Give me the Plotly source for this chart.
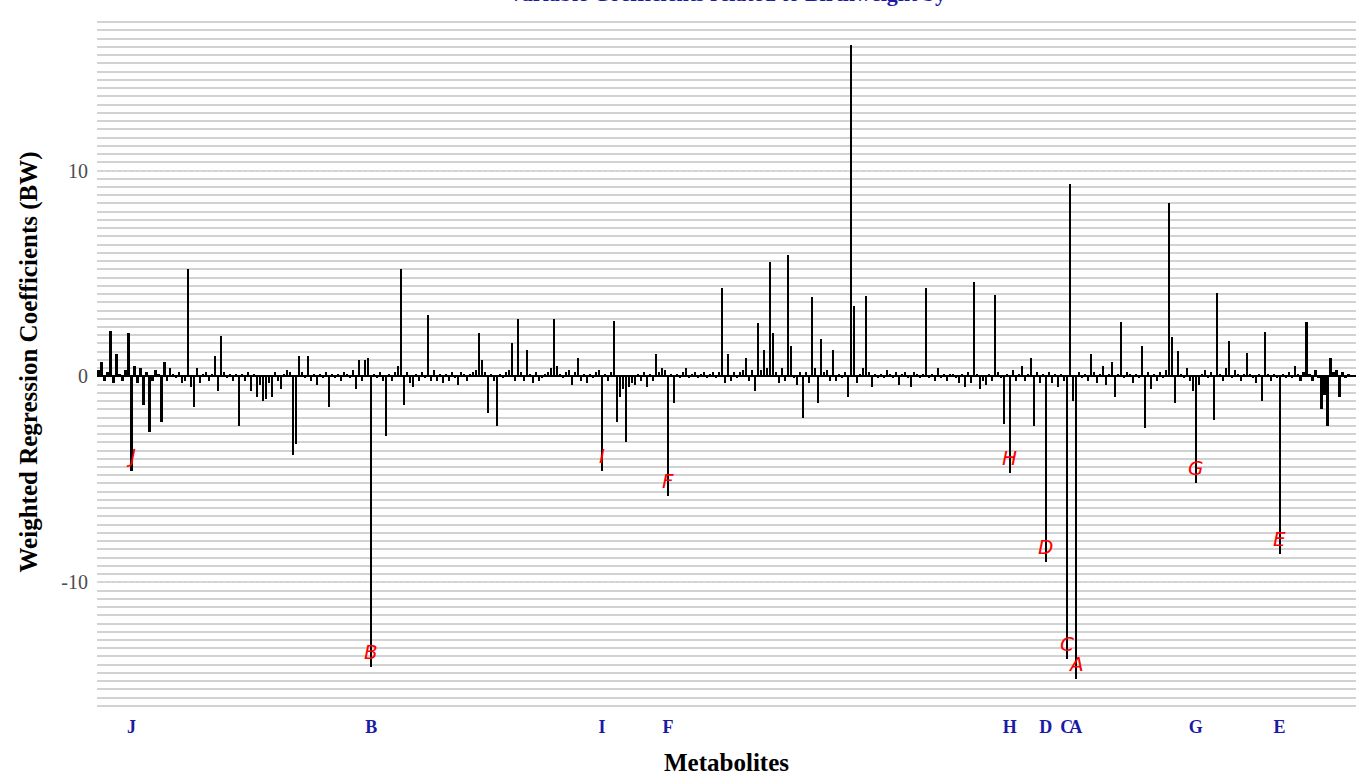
import plotly.graph_objects as go

# Weighted regression coefficients for each metabolite (index 0..419)
coefficients = [
    0.3, 0.7, -0.2, 0.2, 2.2, -0.3, 1.1, 0.1, -0.2, 0.3, 2.1, -4.6, 0.5, -0.3, 0.4, -1.4, 0.2, -2.7, -0.2, 0.3,
    0.1, -2.2, 0.7, -0.2, 0.4, 0.1, -0.1, 0.2, -0.3, -0.2, 5.2, -0.5, -1.5, 0.4, -0.3, 0.1, 0.2, -0.2, 0.1, 1.0,
    -0.7, 1.95, 0.2, -0.1, 0.1, -0.2, 0.1, -2.4, 0.1, -0.2, 0.2, -0.7, 0.1, -1.0, -0.4, -1.2, -1.1, -0.3, -1.0, 0.2,
    -0.2, -0.6, 0.1, 0.3, 0.2, -3.8, -3.3, 1.0, 0.2, -0.1, 1.0, -0.2, 0.1, -0.4, 0.1, -0.1, 0.2, -1.5, 0.1, -0.1,
    0.1, -0.2, 0.2, 0.1, -0.1, 0.3, -0.6, 0.8, -0.2, 0.8, 0.9, -14.1, 0.1, -0.1, 0.2, -0.2, -2.9, 0.1, -0.2, 0.2,
    0.5, 5.2, -1.4, 0.2, -0.3, -0.5, 0.1, -0.2, 0.2, -0.1, 3.0, -0.2, 0.3, -0.2, 0.1, -0.3, 0.1, -0.2, 0.2, -0.1,
    -0.4, 0.2, 0.1, -0.2, 0.1, 0.2, 0.3, 2.1, 0.8, 0.2, -1.8, 0.1, -0.2, -2.4, 0.1, -0.1, 0.2, 0.3, 1.6, -0.2,
    2.8, 0.2, -0.2, 1.3, 0.1, -0.3, 0.2, -0.2, -0.1, 0.1, 0.2, 0.4, 2.8, 0.5, 0.1, -0.1, 0.2, 0.3, -0.4, 0.2,
    0.9, -0.2, 0.1, -0.3, 0.1, -0.1, 0.2, 0.3, -4.6, 0.1, -0.2, 0.2, 2.7, -2.2, -1.0, -0.6, -3.2, -0.5, -0.3, -0.4,
    0.1, -0.2, 0.2, -0.5, 0.1, -0.2, 1.1, 0.2, 0.4, 0.3, -5.8, 0.1, -1.3, 0.1, -0.1, 0.2, 0.4, -0.1, 0.1, 0.2,
    -0.1, 0.1, 0.2, -0.1, 0.1, 0.2, -0.1, 0.2, 4.3, -0.3, 1.1, -0.2, 0.2, -0.1, 0.2, 0.3, 0.9, -0.2, 0.3, -0.7,
    2.6, 0.3, 1.3, 0.4, 5.55, 2.1, 0.2, -0.3, 0.4, -0.2, 5.9, 1.5, -0.1, -0.4, 0.2, -2.0, 0.2, -0.3, 3.85, 0.4,
    -1.3, 1.8, 0.2, 0.3, -0.2, 1.3, -0.2, 0.1, -0.1, 0.2, -1.0, 16.1, 3.4, -0.3, 0.1, 0.4, 3.9, 0.2, -0.5, 0.1,
    -0.1, 0.1, -0.1, 0.3, 0.1, -0.1, 0.2, -0.4, 0.1, 0.2, -0.1, -0.5, 0.2, 0.1, -0.1, 0.1, 4.3, -0.1, 0.1, -0.2,
    0.4, -0.1, 0.1, -0.2, 0.1, 0.1, -0.1, -0.3, 0.1, -0.5, 0.2, -0.3, 4.6, 0.1, -0.6, -0.2, -0.4, 0.1, -0.2, 3.95,
    0.2, -0.1, -2.3, 0.1, -4.7, 0.3, -0.2, 0.1, 0.5, -0.2, 0.1, 0.9, -2.4, 0.2, -0.3, 0.1, -9.0, 0.2, -0.3, 0.1,
    -0.5, 0.1, -0.2, -13.7, 9.35, -1.2, -14.7, 0.2, -0.1, 0.1, -0.2, 1.1, 0.2, -0.3, 0.1, 0.5, -0.4, 0.1, 0.7, -1.0,
    0.1, 2.65, -0.1, 0.2, 0.1, -0.3, 0.1, -0.1, 1.5, -2.5, 0.2, -0.6, 0.1, -0.2, 0.2, -0.1, 0.3, 8.4, 1.9, -1.3,
    1.25, 0.1, -0.1, 0.4, -0.2, -0.7, -5.2, -0.4, 0.1, 0.3, -0.1, 0.2, -2.1, 4.05, 0.1, -0.2, 0.4, 1.7, -0.1, 0.3,
    0.1, -0.2, 0.1, 1.15, 0.1, -0.1, -0.3, 0.1, -1.2, 2.15, 0.1, -0.2, 0.1, -0.1, -8.6, 0.1, -0.1, 0.2, -0.1, 0.5,
    0.1, -0.2, 0.2, 2.65, 0.1, -0.2, 0.3, -0.1, -1.6, -0.9, -2.4, 0.9, 0.2, 0.3, -1.0, 0.2, -0.1, 0.1, 0.0, 0.0,
]
metabolite_index = list(range(len(coefficients)))

# Highlighted metabolites
label_index = [11, 91, 168, 190, 304, 316, 323, 326, 366, 394]
label_text = ["J", "B", "I", "F", "H", "D", "C", "A", "G", "E"]

title_text = "Variable Coefficients related to Birthweight by"
x_title = "Metabolites"
y_title = "Weighted Regression Coefficients (BW)"
y_ticks = [-10, 0, 10]

fig = go.Figure()
fig.add_trace(go.Bar(
    x=metabolite_index, y=coefficients, width=0.7,
    marker=dict(color="black", line=dict(width=0)),
    showlegend=False, hoverinfo="x+y",
))

for idx, txt in zip(label_index, label_text):
    fig.add_annotation(
        x=idx, y=coefficients[idx], text=txt, showarrow=False,
        yshift=15, xanchor="center", yanchor="middle",
        font=dict(family="DejaVu Sans", size=20, color="red", style="italic"),
    )

# partially visible title at top (cropped in the original)
fig.add_annotation(
    x=0.5, xref="paper", y=1 + 21 / 696, yref="paper",
    text=title_text, showarrow=False, xanchor="center", yanchor="middle",
    font=dict(family="Liberation Serif", size=22, color="#1a1aa6", weight="bold"),
)

fig.update_layout(
    width=1356, height=776,
    margin=dict(l=97, r=0, t=14, b=66),
    plot_bgcolor="white", paper_bgcolor="white",
    bargap=0,
    xaxis=dict(
        range=[-0.5, 419.5], showgrid=False, zeroline=False, showline=False,
        automargin=False,
        tickmode="array", tickvals=label_index, ticktext=label_text, ticks="",
        tickangle=0, ticklabelstandoff=4,
        tickfont=dict(family="Liberation Serif", size=18, color="#1a1aa6", weight="bold"),
        title=dict(text=x_title, standoff=21,
                   font=dict(family="Liberation Serif", size=25, color="black", weight="bold")),
    ),
    yaxis=dict(
        range=[-16.2, 17.6], tickmode="array", tickvals=y_ticks, ticktext=["-10", "0", "10"],
        ticks="", ticklabelstandoff=8, automargin=False,
        tickfont=dict(family="Liberation Serif", size=20, color="#4d4d4d"),
        showgrid=True, gridcolor="#d9d9d9", gridwidth=1.5, griddash="dot",
        zeroline=True, zerolinecolor="black", zerolinewidth=2,
        minor=dict(dtick=0.4, tick0=0, showgrid=True, gridcolor="#d2d2d2",
                   gridwidth=2, griddash="solid"),
        showline=False,
        title=dict(text=y_title, standoff=16,
                   font=dict(family="Liberation Serif", size=25, color="black", weight="bold")),
    ),
)

fig.write_html("out.html", config={"displayModeBar": False},
               post_script="document.body.style.margin='0';")
